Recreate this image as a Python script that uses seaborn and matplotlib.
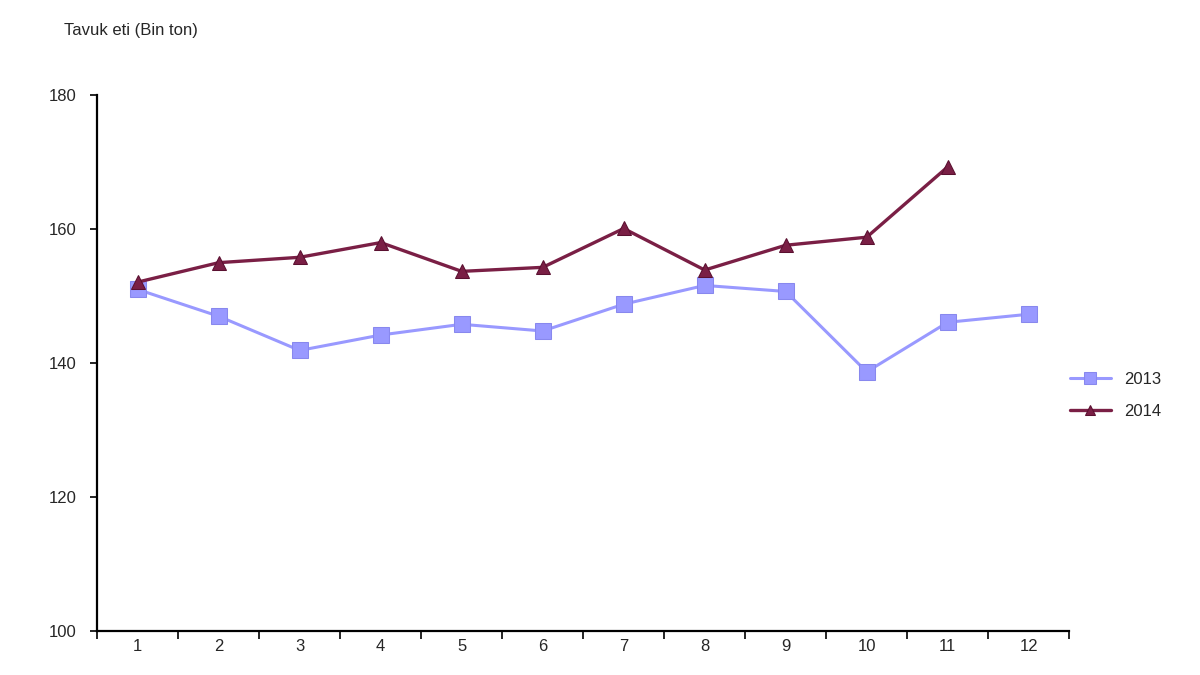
import numpy as np
import pandas as pd
import matplotlib
matplotlib.use("Agg")
import matplotlib.pyplot as plt
import seaborn as sns

# Monthly chicken meat production (thousand tons)
months = [1, 2, 3, 4, 5, 6, 7, 8, 9, 10, 11, 12]
values_2013 = [151.0, 147.0, 141.9, 144.2, 145.8, 144.8, 148.8, 151.6, 150.7, 138.7, 146.1, 147.3]
values_2014 = [152.1, 155.0, 155.8, 158.0, 153.7, 154.3, 160.1, 153.9, 157.6, 158.8, 169.3]
series_names = ["2013", "2014"]

sns.set_theme(style="white")
plt.rcParams["font.family"] = ["Liberation Sans", "DejaVu Sans"]

df = pd.DataFrame({
    "pos": list(range(len(values_2013))) + list(range(len(values_2014))),
    "value": values_2013 + values_2014,
    "year": [series_names[0]] * len(values_2013) + [series_names[1]] * len(values_2014),
})

fig = plt.figure(figsize=(12, 6.75), dpi=100)
ax = fig.add_axes([0.081, 0.065, 0.81, 0.794])

sns.lineplot(data=df[df.year == "2013"], x="pos", y="value", ax=ax,
             color="#9999FF", linewidth=2.2, marker="s", markersize=12,
             markeredgecolor="#8888EE", label="2013")
sns.lineplot(data=df[df.year == "2014"], x="pos", y="value", ax=ax,
             color="#7a1f45", linewidth=2.4, marker="^", markersize=10,
             markeredgecolor="#5a1030", label="2014")

ax.set_xlim(-0.5, 11.5)
ax.set_ylim(100, 180)
ax.set_yticks([100, 120, 140, 160, 180])
ax.set_xticks(np.arange(-0.5, 12, 1))
ax.set_xticklabels([])
ax.set_xticks(range(12), minor=True)
ax.set_xticklabels([str(m) for m in months], minor=True)
ax.tick_params(axis="x", which="major", direction="out", length=6, width=1.2, color="black", bottom=True)
ax.tick_params(axis="x", which="minor", length=0, pad=6, labelsize=12)
ax.tick_params(axis="y", direction="out", length=5, width=1.2, color="black", left=True, labelsize=12, pad=10)

for side in ["top", "right"]:
    ax.spines[side].set_visible(False)
for side in ["left", "bottom"]:
    ax.spines[side].set_color("black")
    ax.spines[side].set_linewidth(1.6)

ax.set_xlabel("")
ax.set_ylabel("")
fig.text(0.053, 0.955, "Tavuk eti (Bin ton)", fontsize=12, ha="left", va="center")

ax.legend(frameon=False, loc="center left", bbox_to_anchor=(0.985, 0.44),
          fontsize=12, handlelength=2.5, markerscale=0.7, labelspacing=1.0)

fig.savefig("out.png", dpi=100)
